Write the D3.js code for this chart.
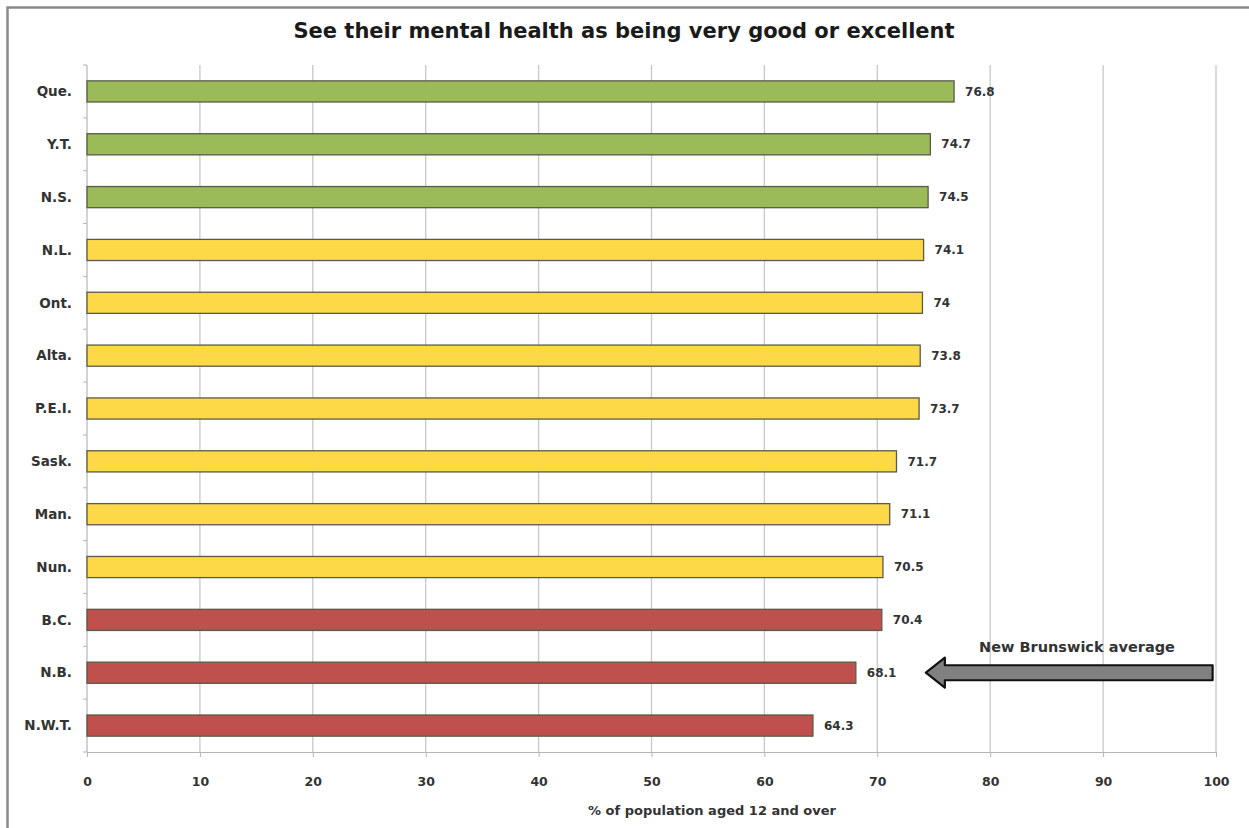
<!DOCTYPE html>
<html>
<head>
<meta charset="utf-8">
<script src="https://cdn.jsdelivr.net/npm/d3@7"></script>
<style>
  html, body { margin: 0; padding: 0; background: #fff; }
  svg text { font-family: "DejaVu Sans", "Open Sans", sans-serif; }
</style>
</head>
<body>
<svg id="chart" width="1249" height="828"></svg>
<script>
// Provinces and territories, top to bottom
const provinces = ["Que.", "Y.T.", "N.S.", "N.L.", "Ont.", "Alta.", "P.E.I.", "Sask.", "Man.", "Nun.", "B.C.", "N.B.", "N.W.T."];
// Share (%) rating mental health very good or excellent
const values = [76.8, 74.7, 74.5, 74.1, 74, 73.8, 73.7, 71.7, 71.1, 70.5, 70.4, 68.1, 64.3];
// Performance group of each bar
const groups = ["high", "high", "high", "mid", "mid", "mid", "mid", "mid", "mid", "mid", "low", "low", "low"];
const xTicks = [0, 10, 20, 30, 40, 50, 60, 70, 80, 90, 100];
const groupColors = { high: "#9bbb59", mid: "#fdd948", low: "#c0504d" };
const averageLabel = "New Brunswick average";
const averageProvince = "N.B.";

const svg = d3.select("#chart");
const W = 1249, H = 828;
const m = { left: 87, right: 1216, top: 65, bottom: 752 };

// outer frame (left and top edges)
svg.append("path")
  .attr("d", `M7.5,${H} V7.5 H${W}`)
  .attr("fill", "none").attr("stroke", "#8a8a8a").attr("stroke-width", 2.5);

const x = d3.scaleLinear().domain([0, 100]).range([m.left, m.right]);
const y = d3.scaleBand().domain(provinces).range([m.top, m.bottom]).paddingInner(0.6).paddingOuter(0.3);

// vertical gridlines
svg.append("g").selectAll("line").data(xTicks.slice(1)).join("line")
  .attr("x1", d => x(d)).attr("x2", d => x(d))
  .attr("y1", m.top).attr("y2", m.bottom)
  .attr("stroke", "#c8c8c8").attr("stroke-width", 1.3);

// x axis
const xAxis = svg.append("g").attr("transform", `translate(0,${m.bottom})`)
  .call(d3.axisBottom(x).tickValues(xTicks).tickSize(5).tickPadding(20));
xAxis.select(".domain").attr("stroke", "#b4b4bc");
xAxis.selectAll(".tick line").attr("stroke", "#b4b4bc");
xAxis.selectAll("text").attr("font-size", 12.5).attr("font-weight", 700).attr("fill", "#333");

// y axis with ticks on category boundaries
const yAxisG = svg.append("g");
yAxisG.append("line").attr("x1", m.left).attr("x2", m.left).attr("y1", m.top).attr("y2", m.bottom)
  .attr("stroke", "#b4b4bc").attr("stroke-width", 1.2);
const step = (m.bottom - m.top) / provinces.length;
yAxisG.selectAll("line.bt").data(d3.range(provinces.length + 1)).join("line").attr("class", "bt")
  .attr("x1", m.left - 4).attr("x2", m.left)
  .attr("y1", i => m.top + i * step).attr("y2", i => m.top + i * step)
  .attr("stroke", "#b4b4bc");
yAxisG.selectAll("text").data(provinces).join("text")
  .attr("x", 72).attr("y", d => y(d) + y.bandwidth() / 2)
  .attr("dy", "0.35em").attr("text-anchor", "end")
  .attr("font-size", 13.5).attr("font-weight", 700).attr("fill", "#333")
  .text(d => d);

// bars
svg.append("g").selectAll("rect").data(provinces).join("rect")
  .attr("x", x(0)).attr("y", d => y(d))
  .attr("width", (d, i) => x(values[i]) - x(0))
  .attr("height", y.bandwidth())
  .attr("fill", (d, i) => groupColors[groups[i]])
  .attr("stroke", "#5a5a4a").attr("stroke-width", 1.3);

// value labels
svg.append("g").selectAll("text").data(provinces).join("text")
  .attr("x", (d, i) => x(values[i]) + 11)
  .attr("y", d => y(d) + y.bandwidth() / 2)
  .attr("dy", "0.35em")
  .attr("font-size", 12).attr("font-weight", 700).attr("fill", "#333")
  .text((d, i) => values[i]);

// title
svg.append("text").attr("x", 624).attr("y", 38).attr("text-anchor", "middle")
  .attr("font-size", 21).attr("font-weight", 700).attr("fill", "#1a1a1a")
  .text("See their mental health as being very good or excellent");

// axis title
svg.append("text").attr("x", 712).attr("y", 815).attr("text-anchor", "middle")
  .attr("font-size", 13).attr("font-weight", 700).attr("fill", "#333")
  .text("% of population aged 12 and over");

// arrow pointing at the New Brunswick bar
const ay = y(averageProvince) + y.bandwidth() / 2;
const tip = x(74.3), tail = x(99.7);
const sh = 7.5, hh = 15, hl = 19;
svg.append("path")
  .attr("d", `M${tip},${ay} L${tip + hl},${ay - hh} L${tip + hl},${ay - sh} L${tail},${ay - sh} L${tail},${ay + sh} L${tip + hl},${ay + sh} L${tip + hl},${ay + hh} Z`)
  .attr("fill", "#808080").attr("stroke", "#111").attr("stroke-width", 2.2).attr("stroke-linejoin", "round");
svg.append("text").attr("x", 1077).attr("y", ay - 21).attr("text-anchor", "middle")
  .attr("font-size", 14.5).attr("font-weight", 700).attr("fill", "#333")
  .text(averageLabel);
</script>
</body>
</html>
